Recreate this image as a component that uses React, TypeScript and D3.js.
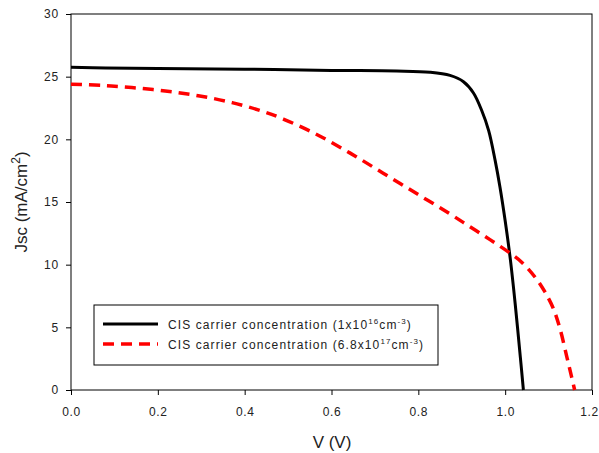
import React, { useEffect, useRef } from 'react';
import * as d3 from 'd3';

// Black curve: CIS carrier concentration 1x10^16 cm^-3
const blackV = [0, 0.08, 0.2, 0.4, 0.6, 0.75, 0.827, 0.873, 0.904, 0.927, 0.946, 0.962, 0.977, 0.988, 1.0, 1.012, 1.023, 1.035, 1.042];
const blackJ = [25.75, 25.7, 25.65, 25.6, 25.5, 25.45, 25.35, 25.1, 24.6, 23.7, 22.3, 20.7, 18.3, 16.2, 13.5, 10.4, 6.9, 2.6, 0];

// Red dashed curve: CIS carrier concentration 6.8x10^17 cm^-3
const redV = [0, 0.07, 0.14, 0.217, 0.293, 0.371, 0.447, 0.489, 0.566, 0.643, 0.719, 0.797, 0.873, 0.919, 0.965, 1.008, 1.038, 1.069, 1.092, 1.111, 1.127, 1.142, 1.153, 1.16];
const redJ = [24.4, 24.3, 24.13, 23.86, 23.48, 22.93, 22.17, 21.62, 20.39, 18.9, 17.3, 15.65, 14.05, 13.02, 12.0, 11.0, 10.2, 9.0, 7.8, 6.5, 4.8, 2.65, 1.05, 0];

const xTicks = [0, 0.2, 0.4, 0.6, 0.8, 1.0, 1.2];
const yTicks = [0, 5, 10, 15, 20, 25, 30];

const App = () => {
  const ref = useRef<SVGSVGElement>(null);
  const width = 599;
  const height = 453;

  useEffect(() => {
    const svg = d3.select(ref.current);
    svg.selectAll('*').remove();

    // plot area (page coords; svg is placed at 0,0)
    const left = 71, right = 592, top = 14, bottom = 390;
    const x = d3.scaleLinear().domain([0, 1.2]).range([left, right]);
    const y = d3.scaleLinear().domain([0, 30]).range([bottom, top]);
    const font = 'Liberation Sans, Arial, sans-serif';
    const textColor = '#222';

    // frame
    svg.append('rect')
      .attr('x', left).attr('y', top)
      .attr('width', right - left).attr('height', bottom - top)
      .attr('fill', 'none').attr('stroke', '#000').attr('stroke-width', 1);

    const line = d3.line<[number, number]>()
      .x((d) => x(d[0]))
      .y((d) => y(d[1]))
      .curve(d3.curveCatmullRom.alpha(0.5));

    svg.append('path')
      .datum(blackV.map((v, i) => [v, blackJ[i]] as [number, number]))
      .attr('d', line)
      .attr('fill', 'none').attr('stroke', '#000').attr('stroke-width', 3);

    svg.append('path')
      .datum(redV.map((v, i) => [v, redJ[i]] as [number, number]))
      .attr('d', line)
      .attr('fill', 'none').attr('stroke', '#ff0000').attr('stroke-width', 3.5)
      .attr('stroke-dasharray', '11,7');

    // axes
    const xAxis = d3.axisBottom(x).tickValues(xTicks).tickSize(5).tickSizeOuter(0)
      .tickFormat((d) => d3.format('.1f')(d as number));
    const gx = svg.append('g').attr('transform', `translate(0,${bottom})`).call(xAxis);
    gx.select('.domain').remove();
    gx.selectAll('line').attr('stroke', '#000');
    gx.selectAll('text')
      .attr('font-family', font).attr('font-size', 12).attr('letter-spacing', 0.6)
      .attr('fill', textColor).attr('y', 25.5).attr('dy', 0)
      .attr('dx', (d) => ((d as number) === 1.2 ? -3 : 0));

    const yAxis = d3.axisLeft(y).tickValues(yTicks).tickSize(5).tickSizeOuter(0);
    const gy = svg.append('g').attr('transform', `translate(${left},0)`).call(yAxis);
    gy.select('.domain').remove();
    gy.selectAll('line').attr('stroke', '#000');
    gy.selectAll('text')
      .attr('font-family', font).attr('font-size', 12).attr('letter-spacing', 0.8)
      .attr('fill', textColor).attr('x', -12);

    // axis titles
    svg.append('text')
      .attr('x', 332).attr('y', 448)
      .attr('text-anchor', 'middle')
      .attr('font-family', font).attr('font-size', 17).attr('fill', textColor)
      .text('V (V)');

    const yt = svg.append('text')
      .attr('transform', `translate(27,${(top + bottom) / 2}) rotate(-90)`)
      .attr('text-anchor', 'middle')
      .attr('font-family', font).attr('font-size', 17).attr('fill', textColor);
    yt.append('tspan').text('Jsc (mA/cm');
    yt.append('tspan').attr('dy', -7).attr('font-size', 12).text('2');
    yt.append('tspan').attr('dy', 7).text(')');

    // legend
    const lg = svg.append('g');
    lg.append('rect')
      .attr('x', 94).attr('y', 305).attr('width', 344).attr('height', 60)
      .attr('fill', '#fff').attr('stroke', '#000').attr('stroke-width', 1);

    const entries = [
      { color: '#000', dash: null as string | null, base: '1x10', exp: '16' },
      { color: '#ff0000', dash: '11,7', base: '6.8x10', exp: '17' },
    ];
    entries.forEach((e, i) => {
      const ly = 324 + i * 20;
      const l = lg.append('line')
        .attr('x1', 103).attr('x2', 158).attr('y1', ly).attr('y2', ly)
        .attr('stroke', e.color).attr('stroke-width', i === 0 ? 3 : 3.5);
      if (e.dash) l.attr('stroke-dasharray', e.dash);
      const t = lg.append('text')
        .attr('x', 168).attr('y', ly + 5)
        .attr('font-family', font).attr('font-size', 12).attr('letter-spacing', 1.1)
        .attr('fill', textColor);
      t.append('tspan').text(`CIS carrier concentration (${e.base}`);
      t.append('tspan').attr('dy', -5).attr('font-size', 8).text(e.exp);
      t.append('tspan').attr('dy', 5).text('cm');
      t.append('tspan').attr('dy', -5).attr('font-size', 8).text('-3');
      t.append('tspan').attr('dy', 5).text(')');
    });
  }, []);

  return (
    <svg
      ref={ref}
      width={width}
      height={height}
      style={{ position: 'absolute', left: 0, top: 0, background: '#fff' }}
    />
  );
};

export default App;
